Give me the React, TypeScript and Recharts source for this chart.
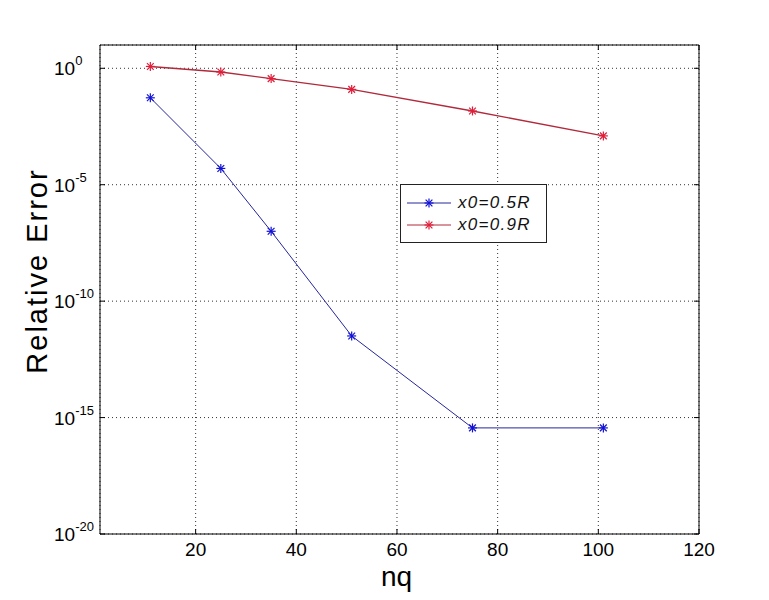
import React from 'react';
import { LineChart, Line, XAxis, YAxis, CartesianGrid, Legend } from 'recharts';

const nq = [11, 25, 35, 51, 75, 101];
const err05 = [0.054, 5e-5, 1e-7, 3.2e-12, 3.6e-16, 3.6e-16];
const err09 = [1.2, 0.69, 0.36, 0.124, 0.0147, 0.00125];
const seriesNames = ['x0=0.5R', 'x0=0.9R'];
const xTicks = [20, 40, 60, 80, 100, 120];
const yExponents = [0, -5, -10, -15, -20];
const yTicks = yExponents.map((e) => Math.pow(10, e));

const data = nq.map((n, i) => ({ nq: n, a: err05[i], b: err09[i] }));

const FONT = '"Liberation Sans", Arial, Helvetica, sans-serif';
const BLUE_LINE = '#26269c';
const BLUE_MARK = '#1212d6';
const RED_LINE = '#b02a3c';
const RED_MARK = '#e01e3a';
const X_DOMAIN: [number, number] = [1, 120];
const Y_DOMAIN: [number, number] = [1e-20, 10];

const starShape = (cx: number, cy: number, color: string, r = 4.5) => (
  <g stroke={color} strokeWidth={1.2}>
    <line x1={cx - r} y1={cy} x2={cx + r} y2={cy} />
    <line x1={cx} y1={cy - r} x2={cx} y2={cy + r} />
    <line x1={cx - r * 0.75} y1={cy - r * 0.75} x2={cx + r * 0.75} y2={cy + r * 0.75} />
    <line x1={cx - r * 0.75} y1={cy + r * 0.75} x2={cx + r * 0.75} y2={cy - r * 0.75} />
  </g>
);

const makeDot = (color: string) => (props: any) => {
  const { cx, cy, index, dataKey } = props;
  if (cx == null || cy == null) return <g key={`${dataKey}-${index}`} />;
  return <g key={`${dataKey}-${index}`}>{starShape(cx, cy, color)}</g>;
};

const BottomTick = (p: any) => {
  const { x, y, payload } = p;
  return (
    <g>
      <line x1={x} y1={y} x2={x} y2={y - 5} stroke="#000" />
      <text x={x} y={y + 22} textAnchor="middle" fontSize={19} fontFamily={FONT} fill="#000">
        {payload.value}
      </text>
    </g>
  );
};

const TopTick = (p: any) => {
  const { x, y } = p;
  return <line x1={x} y1={y} x2={x} y2={y + 5} stroke="#000" />;
};

const LeftTick = (p: any) => {
  const { x, y, payload } = p;
  const e = Math.round(Math.log10(payload.value));
  return (
    <g>
      <line x1={x} y1={y} x2={x + 5} y2={y} stroke="#000" />
      <text x={x - 46} y={y + 7} fontSize={19} fontFamily={FONT} fill="#000">
        10
        <tspan dy={-10} fontSize={13}>
          {String(e)}
        </tspan>
      </text>
    </g>
  );
};

const RightTick = (p: any) => {
  const { x, y } = p;
  return <line x1={x} y1={y} x2={x - 5} y2={y} stroke="#000" />;
};

const XLabel = (props: any) => {
  const vb = props.viewBox || { x: 92, y: 526, width: 599, height: 40 };
  return (
    <text x={vb.x + vb.width / 2 - 3} y={vb.y + 52} textAnchor="middle" fontSize={28} fontFamily={FONT} fill="#000">
      nq
    </text>
  );
};

const YLabel = (props: any) => {
  const vb = props.viewBox || { x: 12, y: 37, width: 80, height: 489 };
  const cx = vb.x + 27;
  const cy = vb.y + vb.height / 2 - 18.5;
  return (
    <text
      x={cx}
      y={cy}
      transform={`rotate(-90, ${cx}, ${cy})`}
      textAnchor="middle"
      fontSize={29}
      letterSpacing={2}
      fontFamily={FONT}
      fill="#000"
    >
      Relative Error
    </text>
  );
};

const legendRows = [
  { name: seriesNames[0], line: BLUE_LINE, mark: BLUE_MARK },
  { name: seriesNames[1], line: RED_LINE, mark: RED_MARK },
];

const LegendBox = () => (
  <div
    style={{
      width: 147,
      height: 59,
      boxSizing: 'border-box',
      border: '1px solid #222',
      background: '#fff',
      position: 'relative',
      fontFamily: FONT,
    }}
  >
    {legendRows.map((r, i) => (
      <div key={r.name} style={{ position: 'absolute', left: 0, top: i === 0 ? 8 : 29.5, height: 20, width: '100%' }}>
        <svg width={56} height={20} style={{ position: 'absolute', left: 0, top: 0 }}>
          <line x1={6} x2={50} y1={10} y2={10} stroke={r.line} strokeWidth={1} />
          {starShape(28, 10, r.mark)}
        </svg>
        <span
          style={{
            position: 'absolute',
            left: 57,
            top: 0,
            fontStyle: 'italic',
            fontSize: 17,
            letterSpacing: 1.3,
            lineHeight: '20px',
            color: '#111',
            whiteSpace: 'nowrap',
          }}
        >
          {r.name}
        </span>
      </div>
    ))}
  </div>
);

export default function App() {
  return (
    <div style={{ width: 761, height: 592, background: '#fff' }}>
      <LineChart
        width={761}
        height={592}
        data={data}
        margin={{ top: 36, right: 69, bottom: 26, left: 12 }}
        style={{ fontFamily: FONT, background: '#fff' }}
      >
        <CartesianGrid strokeDasharray="1 3" stroke="#333" strokeWidth={1} />
        <XAxis
          dataKey="nq"
          type="number"
          domain={X_DOMAIN}
          ticks={xTicks}
          interval={0}
          allowDataOverflow
          height={40}
          tickSize={0}
          tickMargin={0}
          tickLine={false}
          axisLine={{ stroke: '#000' }}
          tick={<BottomTick />}
          label={XLabel}
        />
        <XAxis
          xAxisId="top"
          dataKey="nq"
          orientation="top"
          type="number"
          domain={X_DOMAIN}
          ticks={xTicks}
          interval={0}
          allowDataOverflow
          height={1}
          tickSize={0}
          tickMargin={0}
          tickLine={false}
          axisLine={{ stroke: '#000' }}
          tick={<TopTick />}
        />
        <YAxis
          type="number"
          scale="log"
          domain={Y_DOMAIN}
          ticks={yTicks}
          interval={0}
          allowDataOverflow
          width={80}
          tickSize={0}
          tickMargin={0}
          tickLine={false}
          axisLine={{ stroke: '#000' }}
          tick={<LeftTick />}
          label={YLabel}
        />
        <YAxis
          yAxisId="right"
          orientation="right"
          type="number"
          scale="log"
          domain={Y_DOMAIN}
          ticks={yTicks}
          interval={0}
          allowDataOverflow
          width={1}
          tickSize={0}
          tickMargin={0}
          tickLine={false}
          axisLine={{ stroke: '#000' }}
          tick={<RightTick />}
        />
        <Legend
          layout="vertical"
          align="center"
          verticalAlign="middle"
          wrapperStyle={{ left: 392, top: 176, width: 147, height: 59 }}
          content={<LegendBox />}
        />
        <Line
          type="linear"
          dataKey="a"
          name={seriesNames[0]}
          stroke={BLUE_LINE}
          strokeWidth={1}
          dot={makeDot(BLUE_MARK)}
          activeDot={false}
          isAnimationActive={false}
        />
        <Line
          type="linear"
          dataKey="b"
          name={seriesNames[1]}
          stroke={RED_LINE}
          strokeWidth={1.4}
          dot={makeDot(RED_MARK)}
          activeDot={false}
          isAnimationActive={false}
        />
      </LineChart>
    </div>
  );
}
